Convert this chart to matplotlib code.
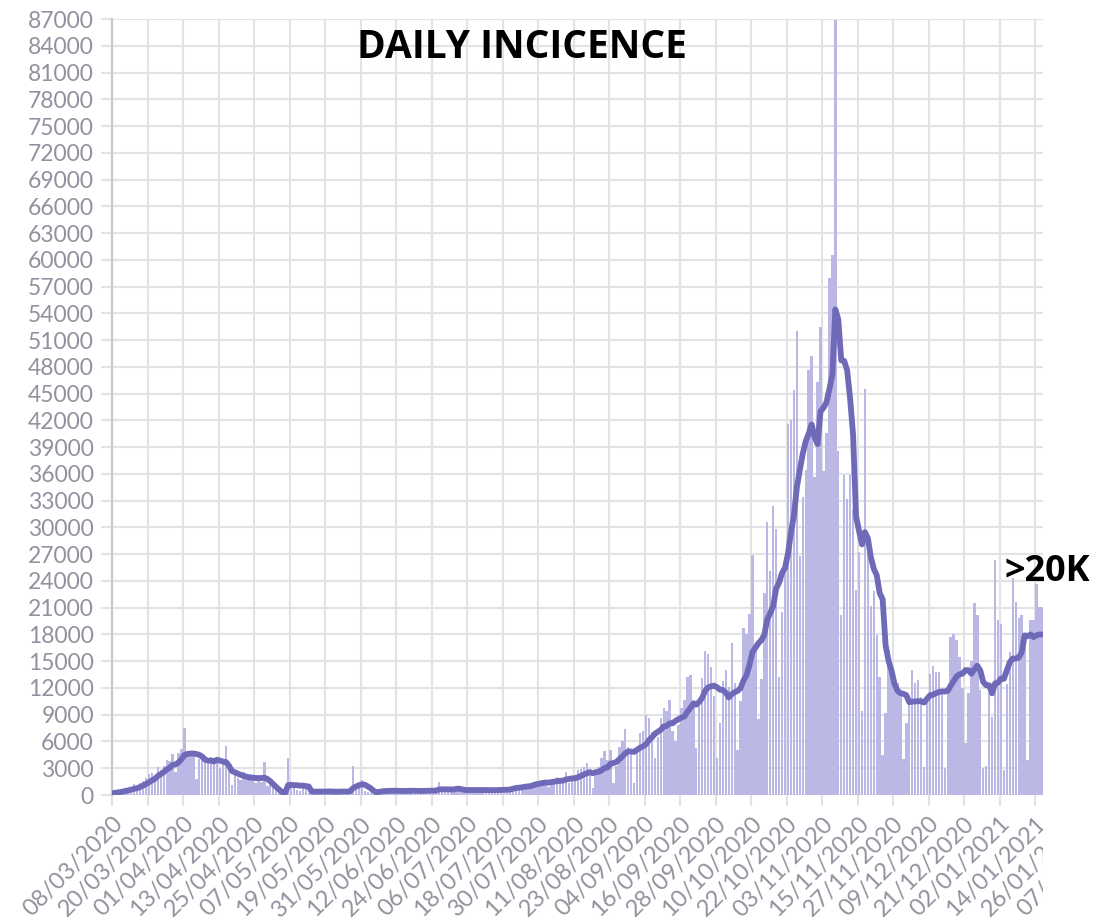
import numpy as np
import pandas as pd
import matplotlib
matplotlib.use('Agg')
import matplotlib.pyplot as plt
from matplotlib.patches import Rectangle

plt.rcParams['font.family'] = ['Lato', 'DejaVu Sans']

start_date = '2020-03-08'

# daily new cases (bars), by month
cases_mar = [200, 280, 370, 500, 600, 800, 900, 1200, 900, 1400, 1600, 1900, 2300, 2500, 2100, 3100,
             2800, 3200, 3900, 3800, 4600, 2600, 4700, 5200]
cases_apr = [7500, 4400, 4600, 4500, 1800, 4000, 4200, 4100, 3600, 4300, 3500, 4200, 3000, 3600, 5500,
             3200, 1100, 2400, 1900, 1700, 2600, 2100, 2300, 1700, 1400, 1900, 1500, 3700, 1000, 1100]
cases_may = [1100, 1300, 700, 300, 100, 4100, 1200, 800, 600, 500, 800, 700, 200, 600, 400, 300, 200,
             500, 400, 600, 400, 300, 250, 200, 400, 500, 400, 3300, 1100, 800, 1700]
cases_jun = [500, 300, 200, 100, 400, 500, 600, 450, 550, 500, 350, 300, 550, 500, 450, 500, 400, 350,
             300, 600, 550, 450, 500, 400, 350, 1500, 600, 500, 400, 350]
cases_jul = [550, 900, 700, 500, 450, 600, 550, 500, 450, 600, 550, 650, 500, 400, 500, 650, 600, 700,
             500, 450, 800, 1100, 900, 1000, 1100, 1200, 1000, 1500, 1600, 1600, 1500]
cases_aug = [1650, 900, 1300, 1700, 2000, 1900, 1900, 2600, 1300, 1700, 1700, 2800, 2900, 3100, 3600,
             2200, 800, 2500, 3100, 4100, 4900, 3900, 5100, 1400, 3300, 5400, 6100, 7400, 5400, 4900, 1400]
cases_sep = [4900, 7000, 7200, 9000, 8600, 7100, 4200, 6500, 8600, 9800, 9400, 10600, 7200, 6100, 7900,
             9800, 10600, 13200, 13500, 10600, 5300, 10000, 13100, 16100, 15800, 14400, 11100, 4100, 8100, 12800]
cases_oct = [14000, 12100, 17000, 12600, 5100, 10500, 18700, 18100, 20300, 26900, 16100, 8500, 13000,
             22600, 30600, 25100, 32400, 29800, 13200, 20500, 26700, 41600, 42000, 45400, 52000, 26800,
             33400, 36400, 47600, 49200, 35600]
cases_nov = [46300, 52500, 36300, 40600, 58000, 60500, 86900, 38600, 20200, 35900, 33200, 35900, 32100,
             23000, 27200, 9400, 45500, 28400, 21200, 22900, 17900, 13200, 4500, 9200, 16300, 13600,
             12500, 12600, 11200, 4000]
cases_dec = [8100, 10900, 14000, 12600, 12900, 11000, 3100, 11000, 13600, 14500, 13800, 13800, 11500,
             3000, 11500, 17700, 18100, 17400, 15500, 12000, 5800, 11400, 15000, 21500, 20200, 11800,
             3000, 3200, 11400, 8700, 26300]
cases_jan = [19600, 19200, 2800, 12500, 16000, 24300, 21600, 19900, 20200, 18000, 3900, 19600, 19600,
             23700, 21100, 21100]

# 7-day average (line), by month
avg_mar = [220, 260, 310, 370, 440, 520, 590, 680, 770, 900, 1050, 1230, 1430, 1640, 1820, 2130, 2340,
           2570, 2870, 3060, 3360, 3430, 3660, 4010]
avg_apr = [4500, 4600, 4650, 4650, 4600, 4500, 4300, 3950, 3850, 3850, 3750, 3950, 3850, 3750, 3700,
           3300, 2700, 2550, 2400, 2250, 2150, 2050, 1950, 1950, 1900, 1900, 1900, 1950, 1800, 1550]
avg_may = [1200, 900, 600, 300, 200, 1100, 1150, 1100, 1100, 1050, 1050, 1000, 950, 400, 380, 370, 380,
           390, 400, 400, 380, 370, 380, 400, 390, 380, 400, 780, 950, 1100, 1200]
avg_jun = [1150, 950, 750, 450, 300, 350, 420, 450, 460, 470, 480, 470, 460, 450, 460, 470, 480, 470,
           460, 450, 460, 470, 480, 490, 480, 620, 640, 640, 630, 620]
avg_jul = [620, 700, 700, 620, 560, 560, 570, 560, 550, 560, 560, 570, 560, 550, 540, 550, 560, 580,
           580, 600, 700, 780, 820, 860, 920, 960, 1000, 1100, 1200, 1280, 1350]
avg_aug = [1400, 1380, 1450, 1500, 1550, 1580, 1620, 1750, 1800, 1870, 1870, 1990, 2130, 2300, 2440,
           2570, 2440, 2560, 2600, 2770, 3030, 3070, 3500, 3590, 3700, 4020, 4310, 4670, 4890, 4870, 4840]
avg_sep = [5070, 5300, 5460, 5690, 6140, 6460, 6860, 7090, 7310, 7690, 7740, 8030, 8040, 8310, 8510,
           8690, 8800, 9340, 9760, 10240, 10130, 10430, 10900, 11690, 12060, 12190, 12260, 12090, 11810, 11770]
avg_oct = [11470, 10940, 11310, 11530, 11670, 12010, 12860, 13440, 14610, 16030, 16530, 17010, 17370,
           17930, 19710, 20400, 21190, 23140, 23810, 24890, 25470, 27040, 29460, 31310, 34490, 36430,
           38270, 39660, 40510, 41540, 40140]
avg_nov = [39330, 43000, 43410, 44010, 45500, 47110, 54440, 53340, 48730, 48670, 47610, 44460, 40400,
           31270, 29640, 28100, 29470, 28790, 26690, 25370, 24640, 22640, 21940, 16760, 15030, 13940,
           12460, 11700, 11410, 11340]
avg_dec = [11190, 10410, 10470, 10490, 10530, 10500, 10370, 10790, 11170, 11240, 11410, 11540, 11610,
           11600, 11670, 12260, 12770, 13290, 13530, 13600, 14000, 13990, 13600, 14090, 14490, 13960,
           12670, 12300, 12300, 11400, 12500]
avg_jan = [12600, 13060, 13030, 14000, 14900, 15300, 15300, 15400, 16000, 17900, 17800, 18000, 17700,
           17900, 18000, 18000]

y_ticks = list(range(0, 87001, 3000))
x_tick_labels = ['08/03/2020', '20/03/2020', '01/04/2020', '13/04/2020', '25/04/2020', '07/05/2020',
                 '19/05/2020', '31/05/2020', '12/06/2020', '24/06/2020', '06/07/2020', '18/07/2020',
                 '30/07/2020', '11/08/2020', '23/08/2020', '04/09/2020', '16/09/2020', '28/09/2020',
                 '10/10/2020', '22/10/2020', '03/11/2020', '15/11/2020', '27/11/2020', '09/12/2020',
                 '21/12/2020', '02/01/2021', '14/01/2021', '26/01/2021', '07/02/2021']

daily = (cases_mar + cases_apr + cases_may + cases_jun + cases_jul + cases_aug + cases_sep +
         cases_oct + cases_nov + cases_dec + cases_jan)
avg = (avg_mar + avg_apr + avg_may + avg_jun + avg_jul + avg_aug + avg_sep +
       avg_oct + avg_nov + avg_dec + avg_jan)

dates = pd.date_range(start_date, periods=len(daily), freq='D')
centers = dates + pd.Timedelta(hours=12)

W, H = 1104, 919
fig = plt.figure(figsize=(W / 100, H / 100), dpi=100)
ax = fig.add_axes([112 / W, 124 / H, 994 / W, 776 / H])

ax.bar(centers, daily, width=0.82, color='#bcb8e6', linewidth=0, zorder=2)
ax.plot(centers, avg, color='#6f6ab8', lw=4.2, zorder=3,
        solid_joinstyle='round', solid_capstyle='round')

tick_dates = pd.to_datetime(x_tick_labels, format='%d/%m/%Y')
ax.set_xticks(tick_dates)
ax.set_xticklabels(x_tick_labels, rotation=45, ha='right', va='top', rotation_mode='anchor',
                   fontsize=17)
ax.set_xlim(pd.Timestamp('2020-03-08'), pd.Timestamp('2021-02-07'))
ax.set_ylim(0, 87000)
ax.set_yticks(y_ticks)
ax.set_yticklabels([str(v) for v in y_ticks], fontsize=16.5)

ax.grid(True, color='#e3e3e6', lw=1.5)
ax.set_axisbelow(True)
for s in ['top', 'right', 'bottom']:
    ax.spines[s].set_visible(False)
ax.spines['left'].set_color('#c8c8ce')
ax.spines['left'].set_linewidth(1.6)
ax.tick_params(axis='both', colors='#e3e3e6', labelcolor='#92929f', length=8, width=1.5, pad=5)

# crop on the right as in the reference
fig.add_artist(Rectangle((1043 / W, 0), 1, 1, transform=fig.transFigure,
                         facecolor='white', edgecolor='none', zorder=10))

fig.text(522 / W, 1 - 47 / H, 'DAILY INCICENCE', ha='center', va='center', fontsize=28,
         weight='bold', color='black', family=['Open Sans', 'DejaVu Sans'], zorder=11)
fig.text(1047 / W, 1 - 572 / H, '>20K', ha='center', va='center', fontsize=26,
         weight='bold', color='black', family=['Open Sans', 'DejaVu Sans'], zorder=11)

fig.savefig('out.png', dpi=100)
